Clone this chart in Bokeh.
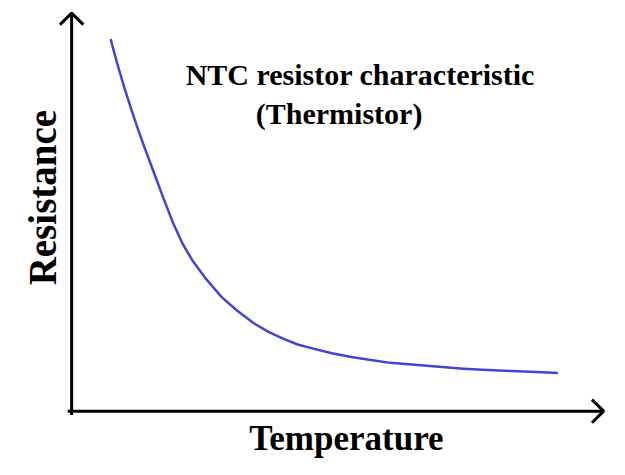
from bokeh.plotting import figure
from bokeh.models import Range1d, Label
from bokeh.embed import file_html
from bokeh.resources import INLINE
import math

# Curve (arbitrary units: temperature vs resistance)
temperature = [40, 47, 54, 61, 67, 74, 84, 94, 104, 114, 124, 137, 154, 170, 187, 202, 217, 232,
               247, 267, 287, 307, 327, 352, 377, 402, 427, 452, 477, 499]
resistance = [385, 359, 335, 313, 295, 275, 248, 221, 195, 173, 156, 138, 118, 104, 91, 82, 75, 69,
              65, 60, 56, 53, 50, 48, 46, 44, 42.5, 41.5, 40.5, 39.5]

title_lines = ["NTC resistor characteristic", "(Thermistor)"]
x_label = "Temperature"
y_label = "Resistance"

# axis extents (data units)
X_END = 546
Y_END = 412
HEAD = 12

W, H = 609, 459
p = figure(width=W, height=H, output_backend="svg", toolbar_location=None,
           x_range=Range1d(-73, 552), y_range=Range1d(-50, 425),
           min_border=0)
p.axis.visible = False
p.grid.visible = False
p.outline_line_color = None
p.background_fill_color = "white"
p.border_fill_color = "white"

# curve
p.line(temperature, resistance, line_color="#4444d4", line_width=2.5, line_join="round")

# axes with open arrow heads
p.line([0, 0], [-4, Y_END], line_color="black", line_width=3)
p.line([-4, X_END], [0, 0], line_color="black", line_width=3)
p.multi_line([[-HEAD, 0, HEAD], [X_END - HEAD, X_END, X_END - HEAD]],
             [[Y_END - HEAD, Y_END, Y_END - HEAD], [HEAD, 0, -HEAD]],
             line_color="black", line_width=3)

font = "Liberation Serif"
common = dict(text_font=font, text_font_style="bold", text_color="black", text_baseline="alphabetic")
p.add_layout(Label(x=117, y=348, text=title_lines[0], text_font_size="30px", text_align="left", **common))
p.add_layout(Label(x=189, y=308, text=title_lines[1], text_font_size="30px", text_align="left", **common))
p.add_layout(Label(x=282, y=-28, text=x_label, text_font_size="35px", text_align="center", **common))
p.add_layout(Label(x=-30, y=221, text=y_label, text_font_size="39px", text_align="center",
                   angle=math.pi / 2, **common))

open("out.html", "w").write(file_html(p, INLINE))
